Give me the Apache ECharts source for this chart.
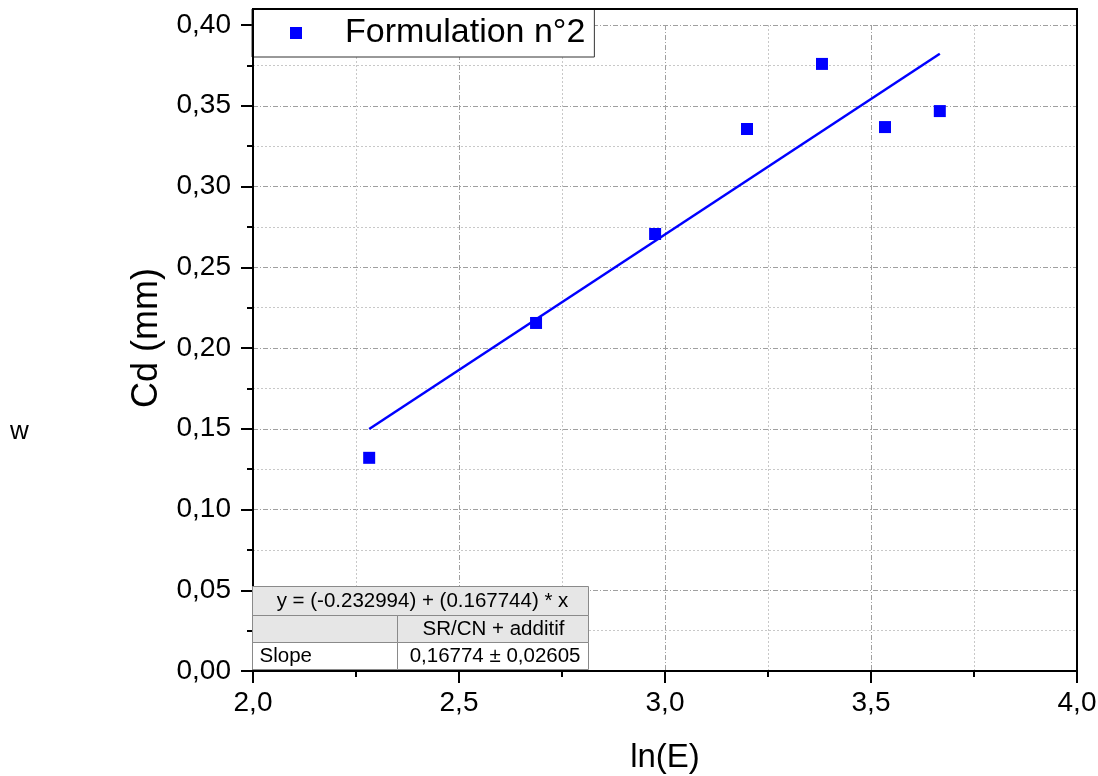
<!DOCTYPE html>
<html><head><meta charset="utf-8">
<script src="https://cdn.jsdelivr.net/npm/echarts@6/dist/echarts.min.js"></script>
<style>html,body{margin:0;padding:0;background:#fff}#c{width:1098px;height:776px}</style>
</head><body><div id="c"></div>
<script>
const xValues = [2.282, 2.687, 2.976, 3.199, 3.381, 3.534, 3.667];
const yValues = [0.132, 0.2155, 0.2706, 0.3356, 0.3759, 0.3368, 0.3467];
const fitX = [2.282, 3.667];
const fitY = [0.1498, 0.3822];
const seriesName = 'Formulation n°2';
const xTickValues = [2.0, 2.5, 3.0, 3.5, 4.0];
const xTickLabels = ['2,0', '2,5', '3,0', '3,5', '4,0'];
const yTickValues = [0, 0.05, 0.10, 0.15, 0.20, 0.25, 0.30, 0.35, 0.40];
const yTickLabels = ['0,00', '0,05', '0,10', '0,15', '0,20', '0,25', '0,30', '0,35', '0,40'];
const tableTitle = 'y = (-0.232994) + (0.167744) * x';
const tableHeader = 'SR/CN + additif';
const tableRowLabel = 'Slope';
const tableRowValue = '0,16774 ± 0,02605';
const xName = 'ln(E)';
const yName = 'Cd (mm)';
const strayText = 'w';

const FONT = "'Liberation Sans', Arial, sans-serif";
function lookup(vals, labels) {
  return function (v) {
    for (let i = 0; i < vals.length; i++) if (Math.abs(vals[i] - v) < 1e-9) return labels[i];
    return '';
  };
}
const chart = echarts.init(document.getElementById('c'), null, {renderer: 'canvas'});
const majorSplit = {show: true, lineStyle: {color: '#a0a0a0', width: 1, type: [5, 2, 1, 2]}};
const minorSplit = {show: true, lineStyle: {color: '#c8c8c8', width: 1, type: [2, 2]}};
const TZ = 100;
const option = {
  animation: false,
  backgroundColor: '#ffffff',
  grid: {left: 253, right: 21, top: 25, bottom: 105, containLabel: false, outerBoundsMode: 'none'},
  legend: {
    left: 252, top: 9,
    data: [{name: seriesName, icon: 'rect'}],
    itemWidth: 12, itemHeight: 12,
    padding: [7, 9, 7, 38],
    backgroundColor: '#ffffff',
    borderColor: '#333333', borderWidth: 1,
    textStyle: {fontFamily: FONT, fontSize: 34, color: '#000', padding: [0, 0, 0, 38]}
  },
  xAxis: {
    type: 'value', min: 2.0, max: 4.0, interval: 0.5,
    name: xName, nameLocation: 'middle', nameGap: 70,
    nameTextStyle: {fontFamily: FONT, fontSize: 33, color: '#000'},
    axisLine: {show: true, lineStyle: {color: '#000', width: 2}},
    axisTick: {show: true, length: 12, lineStyle: {color: '#000', width: 2}},
    minorTick: {show: true, splitNumber: 2, length: 6, lineStyle: {color: '#000', width: 2}},
    axisLabel: {margin: 18, fontFamily: FONT, fontSize: 28, color: '#000', formatter: lookup(xTickValues, xTickLabels)},
    splitLine: majorSplit,
    minorSplitLine: minorSplit
  },
  yAxis: {
    type: 'value', min: 0, max: 0.40, interval: 0.05,
    name: yName, nameLocation: 'middle', nameGap: 88, nameRotate: 90,
    nameTextStyle: {fontFamily: FONT, fontSize: 36, color: '#000', padding: [0, 0, 0, 20]},
    axisLine: {show: true, lineStyle: {color: '#000', width: 2}},
    axisTick: {show: true, length: 12, lineStyle: {color: '#000', width: 2}},
    minorTick: {show: true, splitNumber: 2, length: 6, lineStyle: {color: '#000', width: 2}},
    axisLabel: {margin: 22, fontFamily: FONT, fontSize: 28, color: '#000', formatter: lookup(yTickValues, yTickLabels)},
    splitLine: majorSplit,
    minorSplitLine: minorSplit
  },
  series: [
    {
      name: seriesName, type: 'scatter', symbol: 'rect', symbolSize: 12,
      itemStyle: {color: '#0000ff', opacity: 1},
      data: xValues.map((x, i) => [x, yValues[i]]), z: 5
    },
    {
      name: 'fit', type: 'line', showSymbol: false, symbol: 'none',
      lineStyle: {color: '#0000ff', width: 2.5},
      data: fitX.map((x, i) => [x, fitY[i]]), z: 4
    }
  ],
  graphic: [
    {type: 'rect', z: TZ, silent: true, shape: {x: 253, y: 9, width: 824, height: 662},
     style: {fill: 'none', stroke: '#000', lineWidth: 2}},
    {type: 'group', left: 252, top: 586, z: TZ, children: [
      {type: 'rect', z: TZ, shape: {x: 0, y: 0, width: 336, height: 29}, style: {fill: '#e6e6e6', stroke: '#8a8a8a', lineWidth: 1}},
      {type: 'rect', z: TZ, shape: {x: 0, y: 29, width: 145, height: 27}, style: {fill: '#e6e6e6', stroke: '#8a8a8a', lineWidth: 1}},
      {type: 'rect', z: TZ, shape: {x: 145, y: 29, width: 191, height: 27}, style: {fill: '#e6e6e6', stroke: '#8a8a8a', lineWidth: 1}},
      {type: 'rect', z: TZ, shape: {x: 0, y: 56, width: 145, height: 27}, style: {fill: '#ffffff', stroke: '#8a8a8a', lineWidth: 1}},
      {type: 'rect', z: TZ, shape: {x: 145, y: 56, width: 191, height: 27}, style: {fill: '#ffffff', stroke: '#8a8a8a', lineWidth: 1}},
      {type: 'text', z: TZ + 1, x: 170, y: 15, style: {text: tableTitle, fontFamily: FONT, fontSize: 20.5, fill: '#000', align: 'center', verticalAlign: 'middle'}},
      {type: 'text', z: TZ + 1, x: 241, y: 43, style: {text: tableHeader, fontFamily: FONT, fontSize: 20.5, fill: '#000', align: 'center', verticalAlign: 'middle'}},
      {type: 'text', z: TZ + 1, x: 7, y: 70, style: {text: tableRowLabel, fontFamily: FONT, fontSize: 20.5, fill: '#000', align: 'left', verticalAlign: 'middle'}},
      {type: 'text', z: TZ + 1, x: 328, y: 70, style: {text: tableRowValue, fontFamily: FONT, fontSize: 20.5, fill: '#000', align: 'right', verticalAlign: 'middle'}}
    ]},
    {type: 'text', left: 10, top: 419, style: {text: strayText, fontFamily: FONT, fontSize: 26, fill: '#000'}}
  ]
};
chart.setOption(option);
</script>
</body></html>
